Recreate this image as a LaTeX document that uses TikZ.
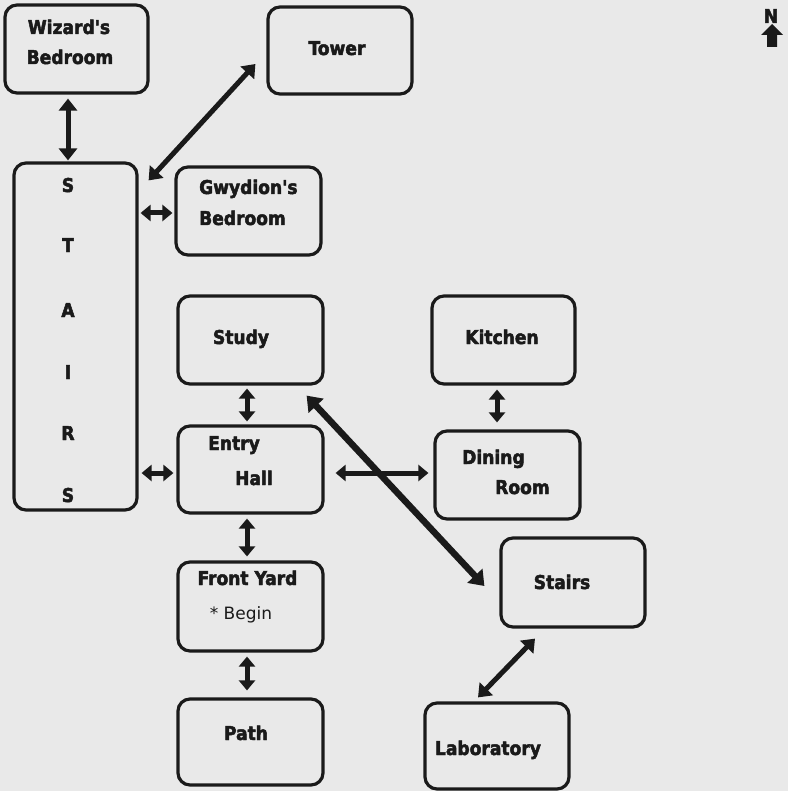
\documentclass[tikz,border=0pt]{standalone}
\usepackage{fontspec}
\setmainfont{DejaVu Sans}
\newfontfamily\chic[FakeBold=2.5]{DejaVuSansCondensed-Bold.ttf}
\usetikzlibrary{arrows.meta}
\definecolor{paper}{HTML}{E9E9E9}
\definecolor{ink}{HTML}{1A1A1A}
\newcommand{\apos}{\char"0027\relax}
\tikzset{
  room/.style={draw=ink, line width=3.2pt, rounded corners=12pt, inner sep=0pt},
  lbl/.style={text=ink, inner sep=0pt, anchor=base, font=\chic\fontsize{19}{22}\selectfont},
  lblw/.style={lbl, anchor=base west},
  plain/.style={text=ink, inner sep=0pt, anchor=base, font=\fontsize{17}{20}\selectfont},
  link/.style={draw=ink, line width=5pt, {Triangle[length=12pt,width=18pt]}-{Triangle[length=12pt,width=18pt]}},
  slink/.style={draw=ink, line width=5pt, {Triangle[length=10pt,width=16pt]}-{Triangle[length=10pt,width=16pt]}},
  biglink/.style={draw=ink, line width=6.5pt, {Triangle[length=14pt,width=20pt]}-{Triangle[length=14pt,width=20pt]}}
}
\begin{document}
\begin{tikzpicture}[x=1pt,y=-1pt]
\fill[paper] (0,0) rectangle (788,791);
\useasboundingbox (0,0) rectangle (788,791);
% rooms
\node[room, minimum width=143pt, minimum height=88pt] (wiz) at (76.5,49) {};
\node[room, minimum width=144pt, minimum height=87pt] (tower) at (340,50.5) {};
\node[room, minimum width=123pt, minimum height=347pt] (stairsL) at (75.5,336.5) {};
\node[room, minimum width=145pt, minimum height=88pt] (gwy) at (248.5,211) {};
\node[room, minimum width=145pt, minimum height=88pt] (study) at (250.5,340) {};
\node[room, minimum width=145pt, minimum height=87pt] (entry) at (250.5,469.5) {};
\node[room, minimum width=145pt, minimum height=89pt] (front) at (250.5,606.5) {};
\node[room, minimum width=145pt, minimum height=86pt] (path) at (250.5,742) {};
\node[room, minimum width=143pt, minimum height=88pt] (kitchen) at (503.5,340) {};
\node[room, minimum width=145pt, minimum height=88pt] (dining) at (507.5,475) {};
\node[room, minimum width=144pt, minimum height=89pt] (stairsR) at (573,582.5) {};
\node[room, minimum width=144pt, minimum height=86pt] (lab) at (497,746) {};
% labels
\node[lbl] (wizA) at (69,34) {Wizard\apos s};
\node[lbl] (wizB) at (70,64) {Bedroom};
\node[lbl] (towerA) at (337,55) {Tower};
\node[lbl] (sA) at (68,192) {S};
\node[lbl] (sB) at (68,252) {T};
\node[lbl] (sC) at (68,317) {A};
\node[lbl] (sD) at (68,379) {I};
\node[lbl] (sE) at (68,440) {R};
\node[lbl] (sF) at (68,502) {S};
\node[lblw] (gwyA) at (199,194) {Gwydion\apos s};
\node[lblw] (gwyB) at (199,225) {Bedroom};
\node[lbl] (studyA) at (241,344) {Study};
\node[lblw] (entryA) at (208,450) {Entry};
\node[lblw] (entryB) at (235,485) {Hall};
\node[lbl] (frontA) at (247.5,585) {Front Yard};
\node[plain] (frontB) at (241,619) {* Begin};
\node[lbl] (pathA) at (246,740) {Path};
\node[lbl] (kitchenA) at (502,344) {Kitchen};
\node[lblw] (diningA) at (462,464) {Dining};
\node[lblw] (diningB) at (495,494) {Room};
\node[lbl] (stairsRA) at (562,589) {Stairs};
\node[lbl] (labA) at (488,755) {Laboratory};
% connectors
\draw[link, shorten <=4pt, shorten >=1pt] ([xshift=-8.5pt]wiz.south) -- ([xshift=-7.5pt]stairsL.north);
\draw[link] ([xshift=-11pt,yshift=-13.5pt]tower.west) -- ([xshift=10pt,yshift=-19pt]stairsL.north east);
\draw[slink, shorten <=2pt, shorten >=2pt] ([yshift=-2pt]gwy.west -| stairsL.east) -- ([yshift=-2pt]gwy.west);
\draw[slink, shorten <=3pt, shorten >=3pt] ([xshift=-3.5pt]study.south) -- ([xshift=-3.5pt]entry.north);
\draw[slink, shorten <=3pt, shorten >=3pt] ([yshift=-3.5pt]entry.west -| stairsL.east) -- ([yshift=-3.5pt]entry.west);
\draw[slink, shorten <=11pt, shorten >=5pt] ([yshift=-3.5pt]entry.east) -- ([yshift=-3.5pt]entry.east -| dining.west);
\draw[biglink] ([xshift=-18pt,yshift=-10pt]study.south east) -- ([xshift=-15pt,yshift=-3.5pt]stairsR.west);
\draw[slink, shorten <=4pt, shorten >=7pt] ([xshift=-6.5pt]kitchen.south) -- ([xshift=-10.5pt]dining.north);
\draw[slink, shorten <=4pt, shorten >=4pt] ([xshift=-3.5pt]entry.south) -- ([xshift=-3.5pt]front.north);
\draw[slink, shorten <=4pt, shorten >=7pt] ([xshift=-3.5pt]front.south) -- ([xshift=-3.5pt]path.north);
\draw[link] ([xshift=-38pt,yshift=-10pt]stairsR.south) -- ([xshift=-19pt,yshift=4pt]lab.north);
% north marker
\node[lbl, font=\chic\fontsize{19}{20}\selectfont] (north) at (771,23) {N};
\fill[ink] (772,24) -- (783,35) -- (777,35) -- (777,47) -- (767,47) -- (767,35) -- (761,35) -- cycle;
\end{tikzpicture}
\end{document}
